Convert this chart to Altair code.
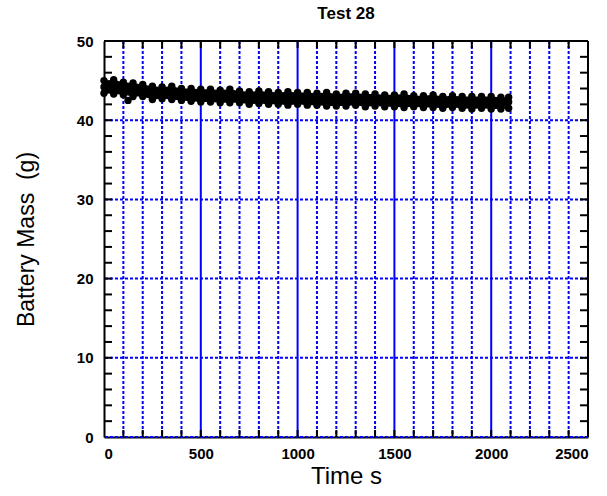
import altair as alt
import pandas as pd

# ---- data ----
t_mid = [0, 25, 50, 75, 100, 125, 150, 175, 200, 225, 250, 275, 300, 325, 350, 375, 400, 425, 450, 475,
         500, 525, 550, 575, 600, 625, 650, 675, 700, 725, 750, 775, 800, 825, 850, 875, 900, 925, 950, 975,
         1000, 1025, 1050, 1075, 1100, 1125, 1150, 1175, 1200, 1225, 1250, 1275, 1300, 1325, 1350, 1375,
         1400, 1425, 1450, 1475, 1500, 1525, 1550, 1575, 1600, 1625, 1650, 1675, 1700, 1725, 1750, 1775,
         1800, 1825, 1850, 1875, 1900, 1925, 1950, 1975, 2000, 2025, 2050, 2075, 2090, 124]
m_mid = [44.2, 44.3, 44.1, 44.2, 43.9, 44.0, 43.8, 43.7, 43.8, 43.6, 43.4, 43.5, 43.4, 43.3, 43.4, 43.2,
         43.3, 43.1, 43.2, 43.0, 43.1, 43.2, 43.0, 43.1, 42.9, 43.0, 43.1, 42.9, 43.0, 42.9, 42.8, 42.9,
         42.9, 42.8, 42.9, 42.7, 42.8, 42.9, 42.7, 42.8, 42.8, 42.7, 42.8, 42.6, 42.7, 42.8, 42.6, 42.7,
         42.6, 42.7, 42.5, 42.6, 42.7, 42.5, 42.6, 42.5, 42.6, 42.4, 42.5, 42.6, 42.5, 42.4, 42.5, 42.5,
         42.4, 42.5, 42.3, 42.4, 42.5, 42.3, 42.4, 42.3, 42.4, 42.3, 42.2, 42.4, 42.3, 42.2, 42.3, 42.2,
         42.3, 42.2, 42.3, 42.2, 42.3, 42.5]

t_band = [0, 50, 100, 150, 200, 250, 300, 350, 400, 450, 500, 550, 600, 650, 700, 750, 800, 850, 900, 950,
          1000, 1050, 1100, 1150, 1200, 1250, 1300, 1350, 1400, 1450, 1500, 1550, 1600, 1650, 1700, 1750,
          1800, 1850, 1900, 1950, 2000, 2050, 2090]
m_hi = [45.0, 45.1, 44.8, 44.7, 44.5, 44.3, 44.2, 44.3, 44.0, 44.0, 43.9, 43.9, 43.8, 43.9, 43.7, 43.6,
        43.7, 43.6, 43.5, 43.6, 43.5, 43.5, 43.4, 43.5, 43.3, 43.4, 43.4, 43.3, 43.3, 43.2, 43.2, 43.3,
        43.1, 43.1, 43.2, 43.0, 43.1, 43.0, 43.0, 43.0, 43.0, 42.9, 42.9]
m_lo = [43.4, 43.3, 43.2, 43.0, 43.0, 42.6, 42.7, 42.6, 42.5, 42.4, 42.3, 42.3, 42.2, 42.2, 42.2, 42.0,
        42.1, 42.0, 42.0, 41.9, 42.0, 41.9, 41.9, 41.8, 41.8, 41.8, 41.9, 41.7, 41.8, 41.7, 41.7, 41.6,
        41.7, 41.6, 41.6, 41.5, 41.6, 41.5, 41.4, 41.5, 41.4, 41.4, 41.5]

x_ticks = [0, 500, 1000, 1500, 2000, 2500]
y_ticks = [0, 10, 20, 30, 40, 50]
x_grid_dotted = [100, 200, 300, 400, 600, 700, 800, 900, 1100, 1200, 1300, 1400,
                 1600, 1700, 1800, 1900, 2100, 2200, 2300, 2400]
x_grid_solid = [500, 1000, 1500, 2000]
y_grid_dotted = [0, 10, 20, 30, 40]
x_minor = [100, 200, 300, 400, 500, 600, 700, 800, 900, 1000, 1100, 1200, 1300, 1400, 1500,
           1600, 1700, 1800, 1900, 2000, 2100, 2200, 2300, 2400]
y_minor = [2, 4, 6, 8, 10, 12, 14, 16, 18, 20, 22, 24, 26, 28, 30, 32, 34, 36, 38, 40, 42, 44, 46, 48]

W, H = 484, 396
BLUE = "#0000ff"
FONT = "Liberation Sans"

pts = pd.DataFrame({"t": t_mid + t_band + t_band, "m": m_mid + m_hi + m_lo})
band = pd.DataFrame({"t": t_band, "hi": m_hi, "lo": m_lo})

xs = alt.Scale(domain=[0, 2500], nice=False, zero=False)
ys = alt.Scale(domain=[0, 50], nice=False, zero=False)

xaxis = alt.Axis(title="Time s", values=x_ticks, ticks=False, grid=False, format="d",
                 domainColor="black", domainWidth=2, labelFont=FONT, labelFontSize=15,
                 labelFontWeight="bold", labelColor="black", labelPadding=9,
                 titleFont=FONT, titleFontSize=24, titleFontWeight="normal", titleColor="black",
                 titlePadding=3)
yaxis = alt.Axis(title="Battery Mass\u00a0 (g)", values=y_ticks, ticks=False, grid=False, format="d",
                 domainColor="black", domainWidth=2, labelFont=FONT, labelFontSize=15,
                 labelFontWeight="bold", labelColor="black", labelPadding=11,
                 titleFont=FONT, titleFontSize=23, titleFontWeight="normal", titleColor="black",
                 titlePadding=38)

X = lambda f="t": alt.X(f + ":Q", scale=xs, axis=xaxis)
Y = lambda f="m": alt.Y(f + ":Q", scale=ys, axis=yaxis)

gx_dot = alt.Chart(pd.DataFrame({"t": x_grid_dotted})).mark_rule(
    color=BLUE, strokeWidth=2, strokeDash=[3, 2]).encode(x=X())
gx_sol = alt.Chart(pd.DataFrame({"t": x_grid_solid})).mark_rule(
    color=BLUE, strokeWidth=2).encode(x=X())
gy_dot = alt.Chart(pd.DataFrame({"m": y_grid_dotted})).mark_rule(
    color=BLUE, strokeWidth=2, strokeDash=[3, 2]).encode(y=Y())

xminor_df = pd.DataFrame({"t": x_minor})
yminor_df = pd.DataFrame({"m": y_minor})
tick_bot = alt.Chart(xminor_df).mark_rule(color="black", strokeWidth=2).encode(
    x=X(), y=alt.value(H), y2=alt.value(H - 7))
tick_top = alt.Chart(xminor_df).mark_rule(color="black", strokeWidth=2).encode(
    x=X(), y=alt.value(0), y2=alt.value(7))
tick_left = alt.Chart(yminor_df).mark_rule(color="black", strokeWidth=2).encode(
    y=Y(), x=alt.value(0), x2=alt.value(8))
tick_right = alt.Chart(yminor_df).mark_rule(color="black", strokeWidth=2).encode(
    y=Y(), x=alt.value(W), x2=alt.value(W - 8))

frame_top = alt.Chart().mark_rule(color="black", strokeWidth=2).encode(
    x=alt.value(0), x2=alt.value(W), y=alt.value(0))
frame_right = alt.Chart().mark_rule(color="black", strokeWidth=2).encode(
    x=alt.value(W), y=alt.value(0), y2=alt.value(H))

area = alt.Chart(band).mark_area(color="black", opacity=1).encode(
    x=X(), y=Y("lo"), y2="hi:Q")
points = alt.Chart(pts).mark_circle(color="black", opacity=1, size=55).encode(x=X(), y=Y())

chart = alt.layer(
    gx_dot, gx_sol, gy_dot, area, points, tick_bot, tick_top, tick_left, tick_right,
    frame_top, frame_right
).properties(
    width=W, height=H,
    title=alt.TitleParams("Test 28", font=FONT, fontSize=17, fontWeight="bold",
                          color="black", anchor="middle", offset=11),
    autosize=alt.AutoSizeParams(type="none"),
    padding={"left": 104, "top": 41, "right": 19, "bottom": 59},
).configure_view(stroke=None).configure(background="white")

chart.save("out.html", embed_options={"renderer": "svg", "actions": False})
